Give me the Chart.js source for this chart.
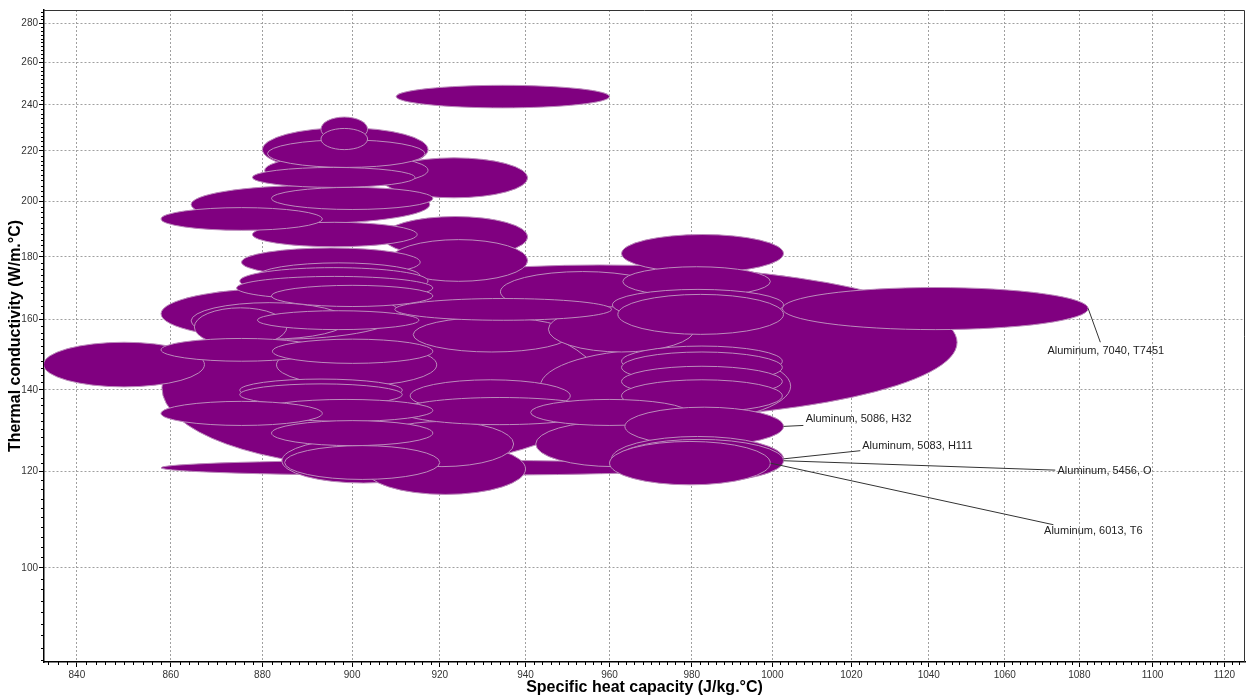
<!doctype html>
<html lang="en">
<head>
<meta charset="utf-8">
<title>Thermal conductivity vs specific heat capacity</title>
<style>
  html, body { margin: 0; padding: 0; background: #fff; }
  #wrap { width: 1248px; height: 697px; }
</style>
</head>
<body>
<div id="wrap"><canvas id="chart"></canvas></div>
<script src="https://cdn.jsdelivr.net/npm/chart.js"></script>
<script>
// ranges of each bubble: specific heat capacity (J/kg.°C) and thermal conductivity (W/m.°C)
// order = drawing order, big ones first
const cpLow  = [875.6, 858.1, 857.9, 1002.5, 943.5, 857.9, 864.4, 880.0, 934.1, 906.4,
                907.0, 908.5, 962.9, 884.3, 903.0, 864.4, 865.1, 913.9, 945.4, 942.4,
                904.1, 913.2, 883.1, 875.4, 877.8, 880.5, 881.1, 878.9, 875.0, 874.3,
                882.0, 963.2, 960.7, 962.0, 962.9, 962.9, 962.9, 962.9, 833.0, 875.0,
                875.0, 910.9, 941.2, 879.3, 882.0, 884.9, 963.7, 857.9, 857.9, 882.2,
                878.9, 909.7, 857.9, 877.8, 882.0, 893.0, 893.0, 910.0, 960.5, 961.2,
                960.0];
const cpHigh = [1047.4, 958.4, 982.0, 1082.4, 1004.6, 910.9, 917.7, 917.3, 973.4, 940.5,
                940.5, 940.5, 1002.8, 921.2, 940.0, 898.9, 885.4, 950.6, 980.7, 980.2,
                937.2, 950.6, 919.3, 915.5, 914.8, 917.3, 916.6, 915.5, 917.3, 918.4,
                918.4, 999.5, 1002.8, 1002.8, 1002.5, 1002.5, 1002.5, 1002.5, 867.3, 911.4,
                911.4, 957.6, 979.0, 918.4, 918.4, 920.0, 1002.8, 893.3, 893.3, 918.4,
                915.2, 960.5, 893.3, 914.3, 918.4, 903.5, 903.5, 960.0, 1002.8, 1002.8,
                999.5];
const kLow   = [132.3, 120.9, 119.1, 156.9, 131.4, 154.1, 191.8, 211.6, 162.2, 201.3,
                179.9, 171.9, 174.8, 117.4, 114.9, 154.1, 152.1, 150.4, 150.4, 121.1,
                121.1, 134.3, 141.1, 173.5, 183.5, 206.0, 213.2, 169.3, 167.7, 166.1,
                163.9, 167.1, 159.7, 155.5, 143.6, 141.9, 138.2, 134.3, 140.8, 137.0,
                136.0, 131.1, 130.9, 131.9, 126.0, 118.2, 126.0, 147.8, 130.9, 147.2,
                156.9, 159.7, 189.3, 205.3, 196.9, 224.0, 220.5, 238.6, 117.8, 117.6,
                117.0];
const kHigh  = [177.3, 163.5, 122.6, 169.9, 151.3, 169.6, 206.0, 229.8, 175.1, 217.1,
                194.3, 186.0, 187.8, 127.7, 126.5, 165.1, 163.5, 160.6, 163.9, 131.9,
                131.9, 142.7, 152.7, 183.1, 192.2, 218.3, 224.6, 178.0, 176.4, 173.5,
                170.6, 176.7, 169.3, 167.7, 152.1, 150.4, 146.4, 142.7, 153.2, 142.9,
                141.6, 138.0, 137.5, 137.5, 132.1, 126.0, 135.5, 154.3, 137.0, 154.1,
                162.6, 166.4, 197.6, 213.2, 205.3, 234.5, 229.5, 249.0, 128.2, 127.5,
                127.0];

// labelled bubbles
const calloutText = ['Aluminum, 7040, T7451', 'Aluminum, 5086, H32', 'Aluminum, 5083, H111',
                     'Aluminum, 5456, O', 'Aluminum, 6013, T6'];
const calloutOf   = [3, 46, 58, 59, 60];
const calloutX    = [1071.4, 1008.4, 1022.8, 1074.1, 1070.5];
const calloutY    = [150.7, 132.6, 126.0, 120.1, 107.2];
const leaderX     = [1085.7, 1007.8, 1022.3, 1073.5, 1073.0];
const leaderY     = [153.2, 130.9, 124.8, 120.3, 108.5];

const xTicks = [840, 860, 880, 900, 920, 940, 960, 980, 1000, 1020, 1040, 1060, 1080, 1100, 1120];
const yTicks = [100, 120, 140, 160, 180, 200, 220, 240, 260, 280];

const FONT = "'Liberation Sans', Arial, sans-serif";

const bubbles = {
  id: 'bubbles',
  beforeDatasetsDraw(chart) {
    const {ctx, chartArea: a, scales: {x, y}} = chart;
    ctx.save();
    ctx.beginPath();
    ctx.rect(a.left, a.top, a.right - a.left, a.bottom - a.top);
    ctx.clip();
    ctx.fillStyle = '#800080';
    ctx.strokeStyle = '#bb8bbb';
    ctx.lineWidth = 1;
    cpLow.forEach((lo, i) => {
      const x1 = x.getPixelForValue(lo), x2 = x.getPixelForValue(cpHigh[i]);
      const y1 = y.getPixelForValue(kHigh[i]), y2 = y.getPixelForValue(kLow[i]);
      ctx.beginPath();
      ctx.ellipse((x1 + x2) / 2, (y1 + y2) / 2, (x2 - x1) / 2, (y2 - y1) / 2, 0, 0, Math.PI * 2);
      ctx.fill();
      ctx.stroke();
    });
    ctx.restore();
  },
  afterDraw(chart) {
    const {ctx, chartArea: a, scales: {x, y}} = chart;
    ctx.save();
    // frame top / right
    ctx.strokeStyle = '#333';
    ctx.lineWidth = 1;
    ctx.beginPath();
    ctx.moveTo(a.left, a.top + 0.5);
    ctx.lineTo(a.right - 0.5, a.top + 0.5);
    ctx.lineTo(a.right - 0.5, a.bottom);
    ctx.stroke();

    // minor ticks every 2 units
    ctx.strokeStyle = '#000';
    ctx.beginPath();
    for (let v = 834; v <= 1124; v += 2) {
      if (v % 20 === 0) continue;
      const px = Math.round(x.getPixelForValue(v)) + 0.5;
      ctx.moveTo(px, a.bottom);
      ctx.lineTo(px, a.bottom + 3);
    }
    for (let v = 84; v <= 286; v += 2) {
      if (v % 20 === 0) continue;
      const py = Math.round(y.getPixelForValue(v)) + 0.5;
      ctx.moveTo(a.left - 3, py);
      ctx.lineTo(a.left, py);
    }
    ctx.stroke();

    // callouts
    ctx.strokeStyle = '#333';
    ctx.fillStyle = '#222';
    ctx.font = '11px ' + FONT;
    ctx.textAlign = 'left';
    ctx.textBaseline = 'middle';
    calloutText.forEach((t, i) => {
      const b = calloutOf[i];
      const sx = x.getPixelForValue(cpHigh[b]);
      const sy = (y.getPixelForValue(kLow[b]) + y.getPixelForValue(kHigh[b])) / 2;
      ctx.beginPath();
      ctx.moveTo(sx, sy);
      ctx.lineTo(x.getPixelForValue(leaderX[i]), y.getPixelForValue(leaderY[i]));
      ctx.stroke();
      ctx.fillText(t, x.getPixelForValue(calloutX[i]), y.getPixelForValue(calloutY[i]));
    });
    ctx.restore();
  }
};

const gridStyle = {color: '#a0a0a0', lineWidth: 1, tickLength: 5, tickColor: '#000', tickWidth: 1};
const borderStyle = {color: '#000', width: 1.5, dash: [2, 2]};

new Chart(document.getElementById('chart'), {
  type: 'scatter',
  data: {datasets: []},
  options: {
    responsive: true,
    maintainAspectRatio: false,
    animation: false,
    layout: {padding: {left: 0, top: 10, right: 3, bottom: 0}},
    plugins: {legend: {display: false}, tooltip: {enabled: false}},
    scales: {
      x: {
        type: 'logarithmic',
        min: 833.1,
        max: 1125.8,
        bounds: 'data',
        afterBuildTicks: s => { s.ticks = xTicks.map(v => ({value: v})); },
        afterFit: s => { s.height = 35; },
        grid: gridStyle,
        border: borderStyle,
        ticks: {autoSkip: false, maxRotation: 0, padding: 2, color: '#333',
                font: {size: 10, family: FONT}, callback: v => v},
        title: {display: true, text: 'Specific heat capacity (J/kg.°C)', color: '#000',
                font: {size: 16, weight: 'bold', family: FONT}, padding: {top: 0, bottom: 0}}
      },
      y: {
        type: 'logarithmic',
        min: 83.7,
        max: 287.1,
        bounds: 'data',
        afterBuildTicks: s => { s.ticks = yTicks.map(v => ({value: v})); },
        afterFit: s => { s.width = 44; },
        grid: gridStyle,
        border: borderStyle,
        ticks: {autoSkip: false, padding: 1, color: '#333',
                font: {size: 10, family: FONT}, callback: v => v},
        title: {display: true, text: 'Thermal conductivity (W/m.°C)', color: '#000',
                font: {size: 16, weight: 'bold', family: FONT}, padding: {top: 6, bottom: 0}}
      }
    }
  },
  plugins: [bubbles]
});
</script>
</body>
</html>
